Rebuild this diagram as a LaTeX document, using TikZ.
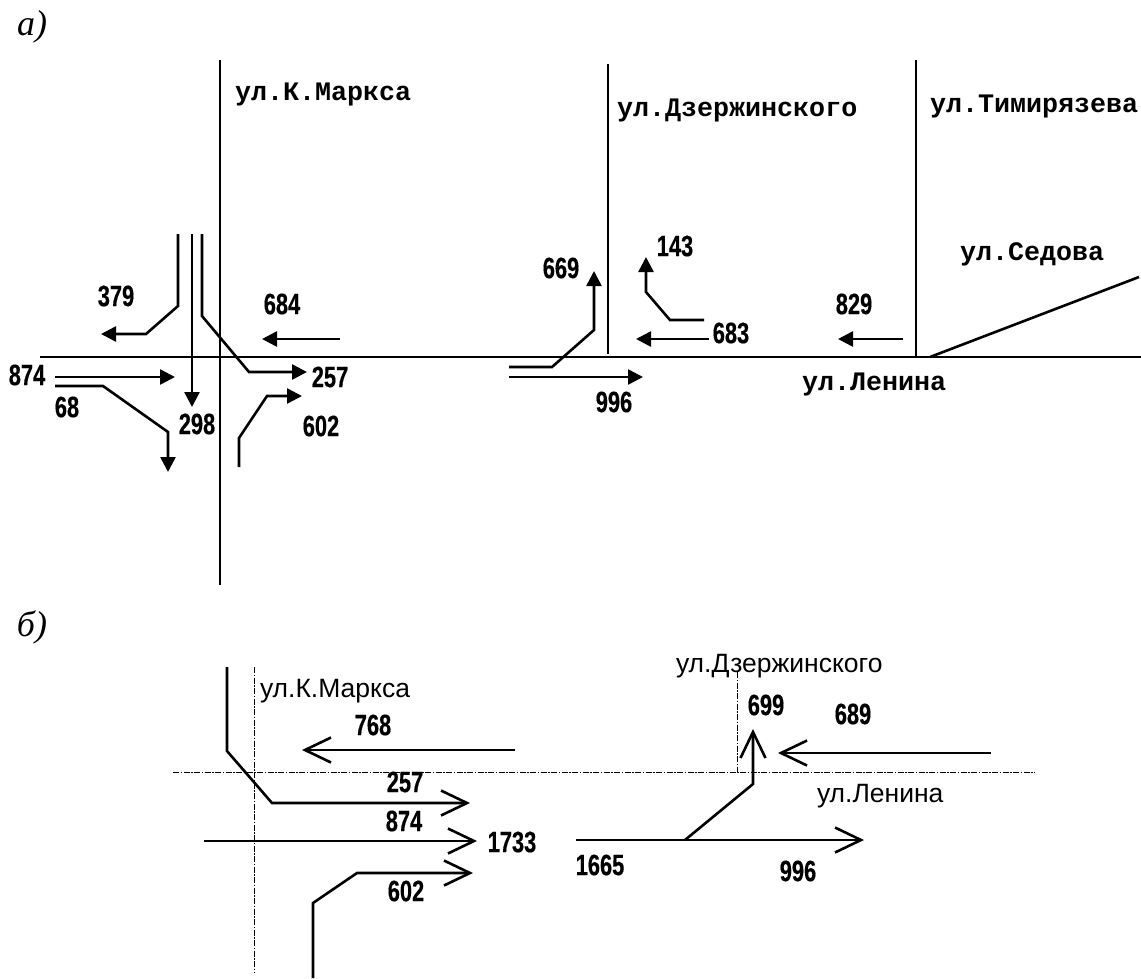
\documentclass[tikz,border=0pt]{standalone}
\usepackage{fontspec}
\usetikzlibrary{arrows.meta}
\setmainfont{Liberation Sans}
\newfontfamily\numfont[FakeStretch=0.74,FakeBold=0.4]{Liberation Sans Bold}
\newfontfamily\monofont{Liberation Mono Bold}
\newfontfamily\itfont{Liberation Serif Italic}
\tikzset{
  every node/.style={inner sep=0pt,outer sep=0pt},
  road/.style={line width=2.6pt,black},
  axis/.style={line width=1pt,black,dash pattern=on 6pt off 1.5pt on 1.5pt off 1.5pt},
  flow/.style={line width=2.6pt,black,line join=miter,-{Triangle[length=15pt,width=15pt]}},
  plain/.style={line width=2.6pt,black,line join=miter},
  openflow/.style={line width=2.6pt,black,line join=miter,-{Straight Barb[length=26pt,width=25pt,line width=2.6pt]}},
  num/.style={font=\fontsize{29.5}{29.5}\numfont},
  monolabel/.style={anchor=base west,font=\fontsize{26.7}{26.7}\monofont},
  sanslabel/.style={anchor=base west,font=\fontsize{26.5}{26.5}\selectfont},
  panel/.style={font=\fontsize{36}{36}\itfont},
}
\begin{document}
\begin{tikzpicture}[x=1pt,y=-1pt]
\useasboundingbox (0,0) rectangle (1141,978);
% panel a: roads
\coordinate (kmT) at (220,60); \coordinate (kmB) at (220,585);
\coordinate (lenL) at (40,357); \coordinate (lenR) at (1141,357);
\coordinate (dzT) at (608,64); \coordinate (dzB) at (608,354);
\coordinate (tiT) at (916,60); \coordinate (tiB) at (916,357);
\coordinate (seA) at (930,357); \coordinate (seB) at (1139,277);
\draw[road] (kmT) -- (kmB);
\draw[road] (lenL) -- (lenR);
\draw[road] (dzT) -- (dzB);
\draw[road] (tiT) -- (tiB);
\draw[road] (seA) -- (seB);
% panel a: flows
\coordinate (a379s) at (178,234); \coordinate (a379m) at (178,306); \coordinate (a379n) at (146,334); \coordinate (a379e) at (101,334);
\draw[flow] (a379s) -- (a379m) -- (a379n) -- (a379e);
\coordinate (a298s) at (192,234); \coordinate (a298e) at (192,407);
\draw[flow] (a298s) -- (a298e);
\coordinate (a257s) at (202,234); \coordinate (a257m) at (202,316); \coordinate (a257n) at (249,372); \coordinate (a257e) at (307,372);
\draw[flow] (a257s) -- (a257m) -- (a257n) -- (a257e);
\coordinate (a684s) at (340,339); \coordinate (a684e) at (262,339);
\draw[flow] (a684s) -- (a684e);
\coordinate (a874s) at (55,377); \coordinate (a874e) at (175,377);
\draw[flow] (a874s) -- (a874e);
\coordinate (a68s) at (55,386); \coordinate (a68m) at (103,386); \coordinate (a68n) at (168,432); \coordinate (a68e) at (168,472);
\draw[flow] (a68s) -- (a68m) -- (a68n) -- (a68e);
\coordinate (a602s) at (239,467); \coordinate (a602m) at (239,438); \coordinate (a602n) at (267,396); \coordinate (a602e) at (302,396);
\draw[flow] (a602s) -- (a602m) -- (a602n) -- (a602e);
\coordinate (a669s) at (509,367); \coordinate (a669m) at (552,367); \coordinate (a669n) at (594,330); \coordinate (a669e) at (594,271);
\draw[flow] (a669s) -- (a669m) -- (a669n) -- (a669e);
\coordinate (a996s) at (509,377); \coordinate (a996e) at (643,377);
\draw[flow] (a996s) -- (a996e);
\coordinate (a143s) at (704,320); \coordinate (a143m) at (670,320); \coordinate (a143n) at (646,292); \coordinate (a143e) at (646,257);
\draw[flow] (a143s) -- (a143m) -- (a143n) -- (a143e);
\coordinate (a683s) at (709,339); \coordinate (a683e) at (636,339);
\draw[flow] (a683s) -- (a683e);
\coordinate (a829s) at (903,339); \coordinate (a829e) at (838,339);
\draw[flow] (a829s) -- (a829e);
% panel a: labels
\node[panel] (pa) at (32,27) {а)};
\node[monolabel] (sKM) at (235,100) {ул.К.Маркса};
\node[monolabel] (sDZ) at (617,116) {ул.Дзержинского};
\node[monolabel] (sTI) at (930,112) {ул.Тимирязева};
\node[monolabel] (sSE) at (960,260) {ул.Седова};
\node[monolabel] (sLE) at (802,390) {ул.Ленина};
\node[num] (n379) at (116,296) {379};
\node[num] (n684) at (282,304) {684};
\node[num] (n874) at (27,375) {874};
\node[num] (n68) at (67,407) {68};
\node[num] (n298) at (197,424) {298};
\node[num] (n257) at (330,377) {257};
\node[num] (n602) at (321,426) {602};
\node[num] (n669) at (561,268) {669};
\node[num] (n143) at (675,246) {143};
\node[num] (n683) at (731,333) {683};
\node[num] (n829) at (854,304) {829};
\node[num] (n996) at (614,402) {996};
% panel b: axes
\coordinate (bhL) at (173,772); \coordinate (bhR) at (1035,772);
\coordinate (bkT) at (254,667); \coordinate (bkB) at (254,972);
\coordinate (bdT) at (737,672); \coordinate (bdB) at (737,772);
\draw[axis] (bhL) -- (bhR);
\draw[axis] (bkT) -- (bkB);
\draw[axis] (bdT) -- (bdB);
% panel b: flows
\coordinate (b257s) at (227,667); \coordinate (b257m) at (227,751); \coordinate (b257n) at (272,803); \coordinate (b257e) at (470,803);
\draw[openflow] (b257s) -- (b257m) -- (b257n) -- (b257e);
\coordinate (b768s) at (515,750); \coordinate (b768e) at (302,750);
\draw[openflow] (b768s) -- (b768e);
\coordinate (b874s) at (204,841); \coordinate (b874e) at (477,841);
\draw[openflow] (b874s) -- (b874e);
\coordinate (b602s) at (313,978); \coordinate (b602m) at (313,903); \coordinate (b602n) at (357,873); \coordinate (b602e) at (473,873);
\draw[openflow] (b602s) -- (b602m) -- (b602n) -- (b602e);
\coordinate (b996s) at (576,840); \coordinate (b996e) at (864,840);
\draw[openflow] (b996s) -- (b996e);
\coordinate (b699s) at (685,840); \coordinate (b699m) at (753,784); \coordinate (b699e) at (753,729);
\draw[openflow] (b699s) -- (b699m) -- (b699e);
\coordinate (b689s) at (991,753); \coordinate (b689e) at (778,753);
\draw[openflow] (b689s) -- (b689e);
% panel b: labels
\node[panel] (pb) at (32,627) {б)};
\node[sanslabel] (tKM) at (260,697) {ул.К.Маркса};
\node[sanslabel] (tDZ) at (676,672) {ул.Дзержинского};
\node[sanslabel] (tLE) at (817,802) {ул.Ленина};
\node[num] (m768) at (373,725) {768};
\node[num] (m257) at (405,782) {257};
\node[num] (m874) at (404,821) {874};
\node[num] (m1733) at (512,842) {1733};
\node[num] (m602) at (406,891) {602};
\node[num] (m1665) at (600,865) {1665};
\node[num] (m996) at (798,871) {996};
\node[num] (m699) at (766,705) {699};
\node[num] (m689) at (853,714) {689};
\end{tikzpicture}
\end{document}
